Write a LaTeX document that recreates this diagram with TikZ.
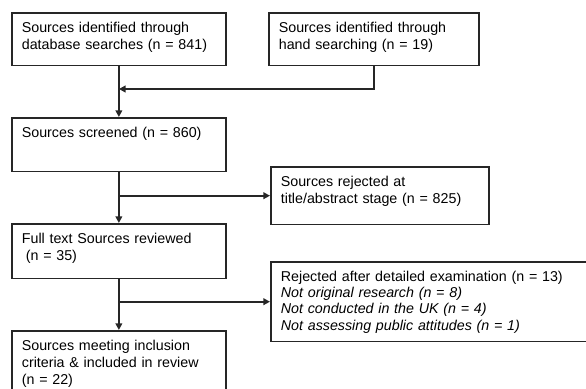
\documentclass[tikz,border=0pt]{standalone}
\usepackage{fontspec}
\setmainfont{Liberation Sans}
\usepackage{xcolor}
\definecolor{lineDark}{HTML}{262626}
\usepackage{tikz}
\usetikzlibrary{positioning,calc,arrows.meta}
\tikzset{%
  srcBox/.style={%
    rectangle,
    draw=lineDark,
    line width=1.3pt,
    anchor=north west,
    align=left,
    inner xsep=7.5pt,
    inner ysep=6.5pt,
    text height=8pt,
    font=\fontsize{10.7}{13}\selectfont
  },
  arrowLine/.style={%
    -{Triangle[length=5pt,width=5pt]},
    line width=1.3pt,
    color=lineDark
  }
}
\begin{document}
\begin{tikzpicture}[x=0.75pt,y=-0.75pt]
            \clip (0,0) rectangle (586,389);
            \node[srcBox, text width=145.5pt, text depth=18.5pt] (database) at (11,12) {Sources identified through\\database searches (n = 841)};
            \node[srcBox, text width=142.5pt, text depth=18.5pt] (hand) at (268,12) {Sources identified through\\hand searching (n = 19)};
            \node[srcBox, text width=145.5pt, text depth=19.25pt] (screened) at (11,117) {Sources screened (n = 860)};
            \node[srcBox, text width=148.5pt, text depth=22.25pt] (rejTitle) at (270,166) {Sources rejected at\\title/abstract stage (n = 825)};
            \node[srcBox, text width=145.5pt, text depth=20pt] (fulltext) at (11,223) {Full text Sources reviewed\\\hspace*{3pt}(n = 35)};
            \node[srcBox, text width=232.5pt, text depth=38.75pt, font=\fontsize{10.7}{12.2}\selectfont] (rejDetail) at (270,261) {Rejected after detailed examination (n = 13)\\\textit{Not original research (n = 8)}\\\textit{Not conducted in the UK (n = 4)}\\\textit{Not assessing public attitudes (n = 1)}};
            \node[srcBox, text width=145.5pt, text depth=35.75pt] (included) at (11,330) {Sources meeting inclusion\\criteria \& included in review\\(n = 22)};

            % joins on the main line
            \coordinate (joinY) at (0,89);
            \coordinate (handJoin) at (database.south |- joinY);
            \coordinate (split1) at (screened.south |- rejTitle.west);
            \coordinate (split2) at (fulltext.south |- rejDetail.west);

            \draw[arrowLine] (database) -- (screened);
            \draw[arrowLine] (hand.south) |- (handJoin);
            \draw[arrowLine] (screened) -- (fulltext);
            \draw[arrowLine] (split1) -- (rejTitle);
            \draw[arrowLine] (fulltext) -- (included);
            \draw[arrowLine] (split2) -- (rejDetail.west);
        \end{tikzpicture}
\end{document}
